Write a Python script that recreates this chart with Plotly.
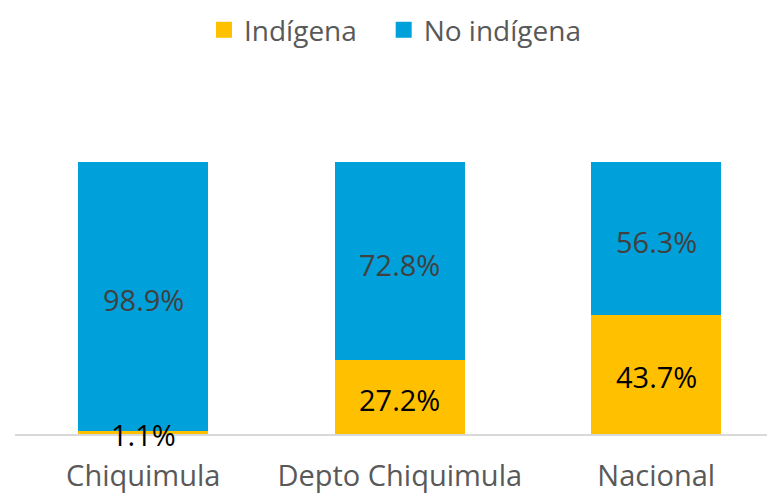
import plotly.graph_objects as go

categories = ["Chiquimula", "Depto Chiquimula", "Nacional"]
indigena = [1.1, 27.2, 43.7]
no_indigena = [98.9, 72.8, 56.3]
series_names = ["Indígena", "No indígena"]
colors = ["#FFC000", "#00A0DA"]
label_colors = ["#000000", "#404040"]
font_family = "Open Sans, Noto Sans, sans-serif"

fig = go.Figure()
fig.add_trace(go.Bar(x=categories, y=indigena, name=series_names[0], showlegend=False,
                     marker=dict(color=colors[0], line=dict(width=0)), width=0.507))
fig.add_trace(go.Bar(x=categories, y=no_indigena, name=series_names[1], showlegend=False,
                     marker=dict(color=colors[1], line=dict(width=0)), width=0.507))
# legend entries with larger square swatches (non-breaking spaces widen the gap between entries)
for k, (name, col) in enumerate(zip(series_names, colors)):
    label = name + ("\u00a0\u00a0\u00a0" if k == 0 else "")
    fig.add_trace(go.Scatter(x=[None], y=[None], mode="markers", name=label,
                             marker=dict(symbol="square", size=17, color=col)))

annotations = []
for i, c in enumerate(categories):
    annotations.append(dict(x=c, y=indigena[i] / 2, text=f"{indigena[i]:.1f}%",
                            showarrow=False, xref="x", yref="y", yshift=-2,
                            font=dict(size=29, color=label_colors[0], family=font_family)))
    annotations.append(dict(x=c, y=indigena[i] + no_indigena[i] / 2, text=f"{no_indigena[i]:.1f}%",
                            showarrow=False, xref="x", yref="y", yshift=-3,
                            font=dict(size=29, color=label_colors[1], family=font_family)))

fig.update_layout(
    barmode="stack",
    width=767, height=486,
    margin=dict(l=7, r=0, t=52, b=60, autoexpand=False),
    paper_bgcolor="white", plot_bgcolor="white",
    font=dict(family=font_family, color="#595959"),
    showlegend=True,
    legend=dict(orientation="h", x=0.5, xanchor="center", y=1.08, yanchor="middle",
                font=dict(size=28, color="#595959"), traceorder="normal",
                itemsizing="trace", itemwidth=30),
    xaxis=dict(range=[-0.5, 2.463], showgrid=False, showline=True, linecolor="#D9D9D9",
               linewidth=2, ticks="", tickfont=dict(size=29, color="#595959"),
               ticklabelstandoff=15, automargin=False, fixedrange=True),
    yaxis=dict(range=[0, 137.5], showgrid=False, showticklabels=False, zeroline=False,
               showline=False, automargin=False, fixedrange=True),
    annotations=annotations,
)

fig.write_html("out.html")
